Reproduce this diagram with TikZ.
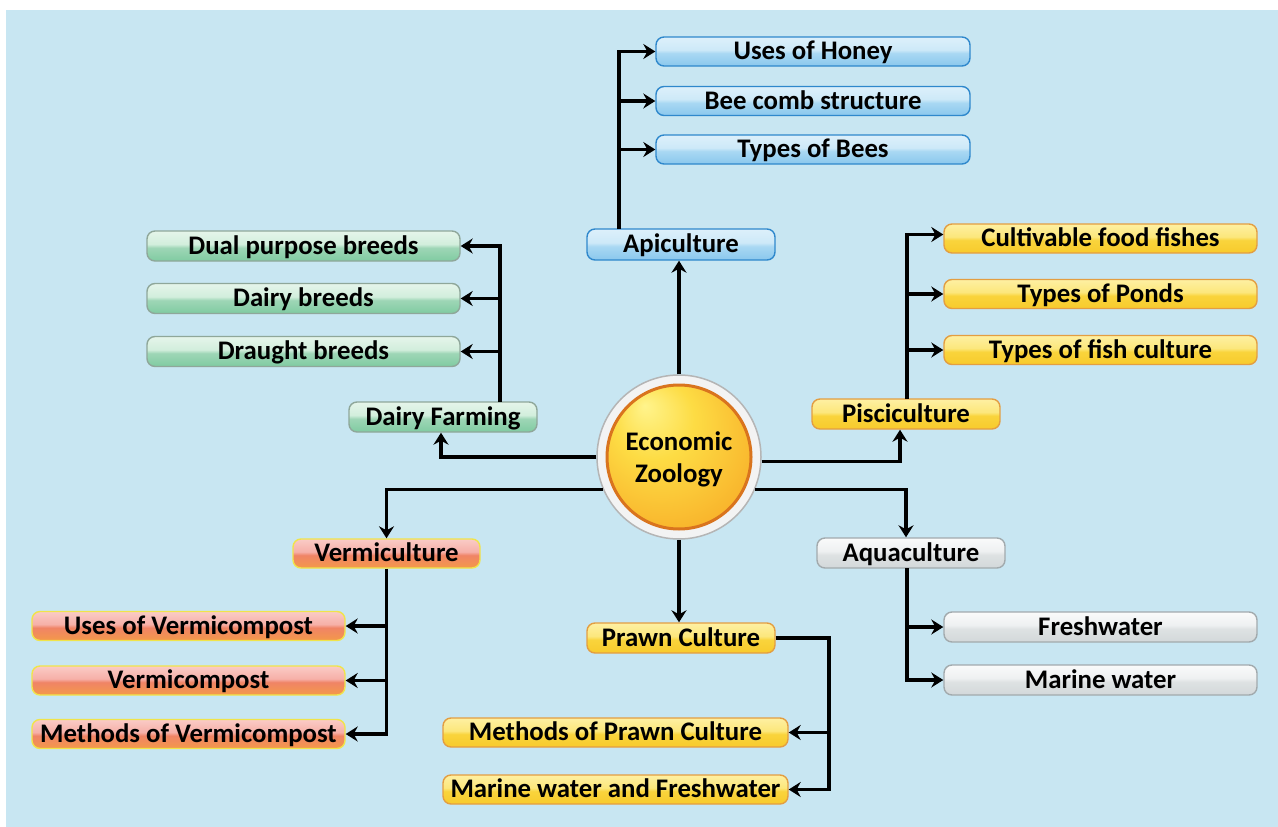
\documentclass[tikz,border=0pt]{standalone}
\usepackage{fontspec}
\setmainfont{Carlito}
\usetikzlibrary{arrows.meta}
\definecolor{bg}{HTML}{C8E6F2}
% blue
\definecolor{bA}{HTML}{8FCBEF}\definecolor{bB}{HTML}{7CC0EA}\definecolor{bC}{HTML}{A9D8F3}
\definecolor{bD}{HTML}{CDE9F8}\definecolor{bE}{HTML}{E4F3FC}\definecolor{bF}{HTML}{C6E5F7}
\definecolor{bDraw}{HTML}{2F88CC}
% green
\definecolor{gA}{HTML}{A6DCBE}\definecolor{gB}{HTML}{72C698}\definecolor{gC}{HTML}{9ED6B6}
\definecolor{gD}{HTML}{D2EEDC}\definecolor{gE}{HTML}{EEF8F1}\definecolor{gF}{HTML}{D4EEDD}
\definecolor{gDraw}{HTML}{8FA79A}
% yellow
\definecolor{yA}{HTML}{F9D650}\definecolor{yB}{HTML}{F7C625}\definecolor{yC}{HTML}{F9D43C}
\definecolor{yD}{HTML}{FCE77C}\definecolor{yE}{HTML}{FFF4B4}\definecolor{yF}{HTML}{FDE98C}
\definecolor{yDraw}{HTML}{E39E42}
% vermi
\definecolor{vA}{HTML}{F7B446}\definecolor{vB}{HTML}{F5A23C}\definecolor{vC}{HTML}{F08466}
\definecolor{vD}{HTML}{F6B0A8}\definecolor{vE}{HTML}{FCD8D4}\definecolor{vF}{HTML}{F7B8B0}
\definecolor{vDraw}{HTML}{F0E44A}
% white
\definecolor{wA}{HTML}{DADFE1}\definecolor{wB}{HTML}{CDD3D5}\definecolor{wC}{HTML}{DEE2E3}
\definecolor{wD}{HTML}{EEF0F1}\definecolor{wE}{HTML}{FFFFFF}\definecolor{wF}{HTML}{EDEFF0}
\definecolor{wDraw}{HTML}{A2AAAD}
% ball
\definecolor{oA}{HTML}{FFF48C}\definecolor{oB}{HTML}{FDDC44}\definecolor{oC}{HTML}{F8AE28}
\definecolor{oD}{HTML}{F18A1E}\definecolor{oDraw}{HTML}{D9741E}
\definecolor{ringC}{HTML}{F3F3F3}\definecolor{ringD}{HTML}{B5B5B5}

\newcommand{\glossshade}[7]{\pgfdeclareverticalshading{#1}{100bp}{color(0bp)=(#2); color(15bp)=(#3); color(47bp)=(#4); color(53bp)=(#5); color(85bp)=(#6); color(93bp)=(white); color(100bp)=(#7)}}
\glossshade{bluegloss}{bA}{bB}{bC}{bD}{bE}{bF}
\glossshade{greengloss}{gA}{gB}{gC}{gD}{gE}{gF}
\glossshade{yellowgloss}{yA}{yB}{yC}{yD}{yE}{yF}
\glossshade{vermigloss}{vA}{vB}{vC}{vD}{vE}{vF}
\glossshade{whitegloss}{wA}{wB}{wC}{wD}{wE}{wF}
\pgfdeclareradialshading{ballorange}{\pgfpoint{-12bp}{18bp}}{color(0bp)=(oA); color(14bp)=(oB); color(36bp)=(oC); color(52bp)=(oD)}

\begin{document}
\begin{tikzpicture}[x=1pt,y=-1pt,
  font=\fontsize{26.8}{32}\selectfont\bfseries,
  box/.style={rounded corners=8pt, line width=1.4pt, inner sep=0pt,
    text height=16.5pt, text depth=0pt, minimum height=30pt, shade},
  wide/.style={box, minimum width=313pt},
  narrow/.style={box, minimum width=188pt},
  bluebox/.style={shading=bluegloss, draw=bDraw},
  greenbox/.style={shading=greengloss, draw=gDraw},
  yellowbox/.style={shading=yellowgloss, draw=yDraw},
  vermibox/.style={shading=vermigloss, draw=vDraw},
  whitebox/.style={shading=whitegloss, draw=wDraw},
  arr/.style={line width=3.4pt, -{Stealth[length=12pt,width=15pt,inset=4pt]}}
]
\useasboundingbox (0,0) rectangle (1278,827);
\fill[bg] (6,10) rectangle (1278,827);

% centre
\node[circle, minimum size=164pt, inner sep=0pt, fill=ringC, draw=ringD, line width=1.5pt] (ez) at (679,457) {};
\shade[shading=ballorange] (679,457) circle[radius=72];
\draw[oDraw, line width=3pt] (679,457) circle[radius=72];
\node[align=center] (eztext) at (679,459) {Economic\\Zoology};

% apiculture
\node[narrow, bluebox, minimum height=31pt] (api) at (681,244.5) {Apiculture};
\node[wide, bluebox, minimum width=314pt, minimum height=29pt] (honey) at (813,51.5) {Uses of Honey};
\node[wide, bluebox, minimum width=314pt, minimum height=29pt] (comb) at (813,101) {Bee comb structure};
\node[wide, bluebox, minimum width=314pt, minimum height=29pt] (bees) at (813,149.5) {Types of Bees};

% dairy
\node[narrow, greenbox] (dairy) at (443,417) {Dairy Farming};
\node[wide, greenbox] (dual) at (303.5,246) {Dual purpose breeds};
\node[wide, greenbox] (dbreed) at (303.5,298.5) {Dairy breeds};
\node[wide, greenbox] (draught) at (303.5,351.5) {Draught breeds};

% pisciculture
\node[narrow, yellowbox] (pisci) at (906,414) {Pisciculture};
\node[wide, yellowbox, minimum height=29pt] (cff) at (1100.5,238.5) {Cultivable food fishes};
\node[wide, yellowbox, minimum height=29pt] (ponds) at (1100.5,294) {Types of Ponds};
\node[wide, yellowbox, minimum height=29pt] (fishc) at (1100.5,350) {Types of fish culture};

% aquaculture
\node[narrow, whitebox] (aqua) at (911,553) {Aquaculture};
\node[wide, whitebox] (fresh) at (1100.5,627) {Freshwater};
\node[wide, whitebox] (marine) at (1100.5,680) {Marine water};

% vermiculture
\node[narrow, vermibox, minimum width=187pt, minimum height=29pt] (vermi) at (386.5,553.5) {Vermiculture};
\node[wide, vermibox, minimum height=29pt] (usesv) at (188.5,626) {Uses of Vermicompost};
\node[wide, vermibox, minimum height=29pt] (vcomp) at (188.5,680.5) {Vermicompost};
\node[wide, vermibox, minimum height=29pt] (methv) at (188.5,734) {Methods of Vermicompost};

% prawn
\node[narrow, yellowbox] (prawn) at (681,638) {Prawn Culture};
\node[box, yellowbox, minimum width=345pt, minimum height=29pt] (mpc) at (615.5,732.5) {Methods of Prawn Culture};
\node[box, yellowbox, minimum width=345pt, minimum height=29pt] (mfw) at (615.5,789.5) {Marine water and Freshwater};

% trunk coordinates
\coordinate (apitrunk) at (619,229);
\coordinate (dtrunk) at (500,402);
\coordinate (ptrunk) at (907,399);
\coordinate (atrunk) at (907,568);
\coordinate (prtrunk) at (829,789.5);

% connectors from centre
\draw[arr] (ez.north) -- (ez.north |- api.south);
\draw[arr] (ez.west) -| ([xshift=-2pt]dairy.south);
\draw[arr] (ez.-3.5) -| ([xshift=-6pt]pisci.south);
\draw[arr] (ez.-23) -| ([xshift=-5pt]aqua.north);
\draw[arr] (ez.203) -| (vermi.north);
\draw[arr] (ez.south) -- (ez.south |- prawn.north);

% apiculture branches
\draw[arr] (apitrunk) |- (honey.west);
\draw[arr] (apitrunk |- comb.west) -- (comb.west);
\draw[arr] (apitrunk |- bees.west) -- (bees.west);

% dairy branches
\draw[arr] (dtrunk) |- (dual.east);
\draw[arr] (dtrunk |- dbreed.east) -- (dbreed.east);
\draw[arr] (dtrunk |- draught.east) -- (draught.east);

% pisciculture branches
\draw[arr] (ptrunk) |- ([yshift=4pt]cff.west);
\draw[arr] (ptrunk |- ponds.west) -- (ponds.west);
\draw[arr] (ptrunk |- fishc.west) -- (fishc.west);

% aquaculture branches
\draw[arr] (atrunk) |- (marine.west);
\draw[arr] (atrunk |- fresh.west) -- (fresh.west);

% vermiculture branches
\draw[arr] (vermi.south) |- (methv.east);
\draw[arr] (vermi.south |- usesv.east) -- (usesv.east);
\draw[arr] (vermi.south |- vcomp.east) -- (vcomp.east);

% prawn branches
\draw[arr] (prawn.east) -| (prtrunk) -- (mfw.east);
\draw[arr] (prtrunk |- mpc.east) -- (mpc.east);
\end{tikzpicture}
\end{document}
